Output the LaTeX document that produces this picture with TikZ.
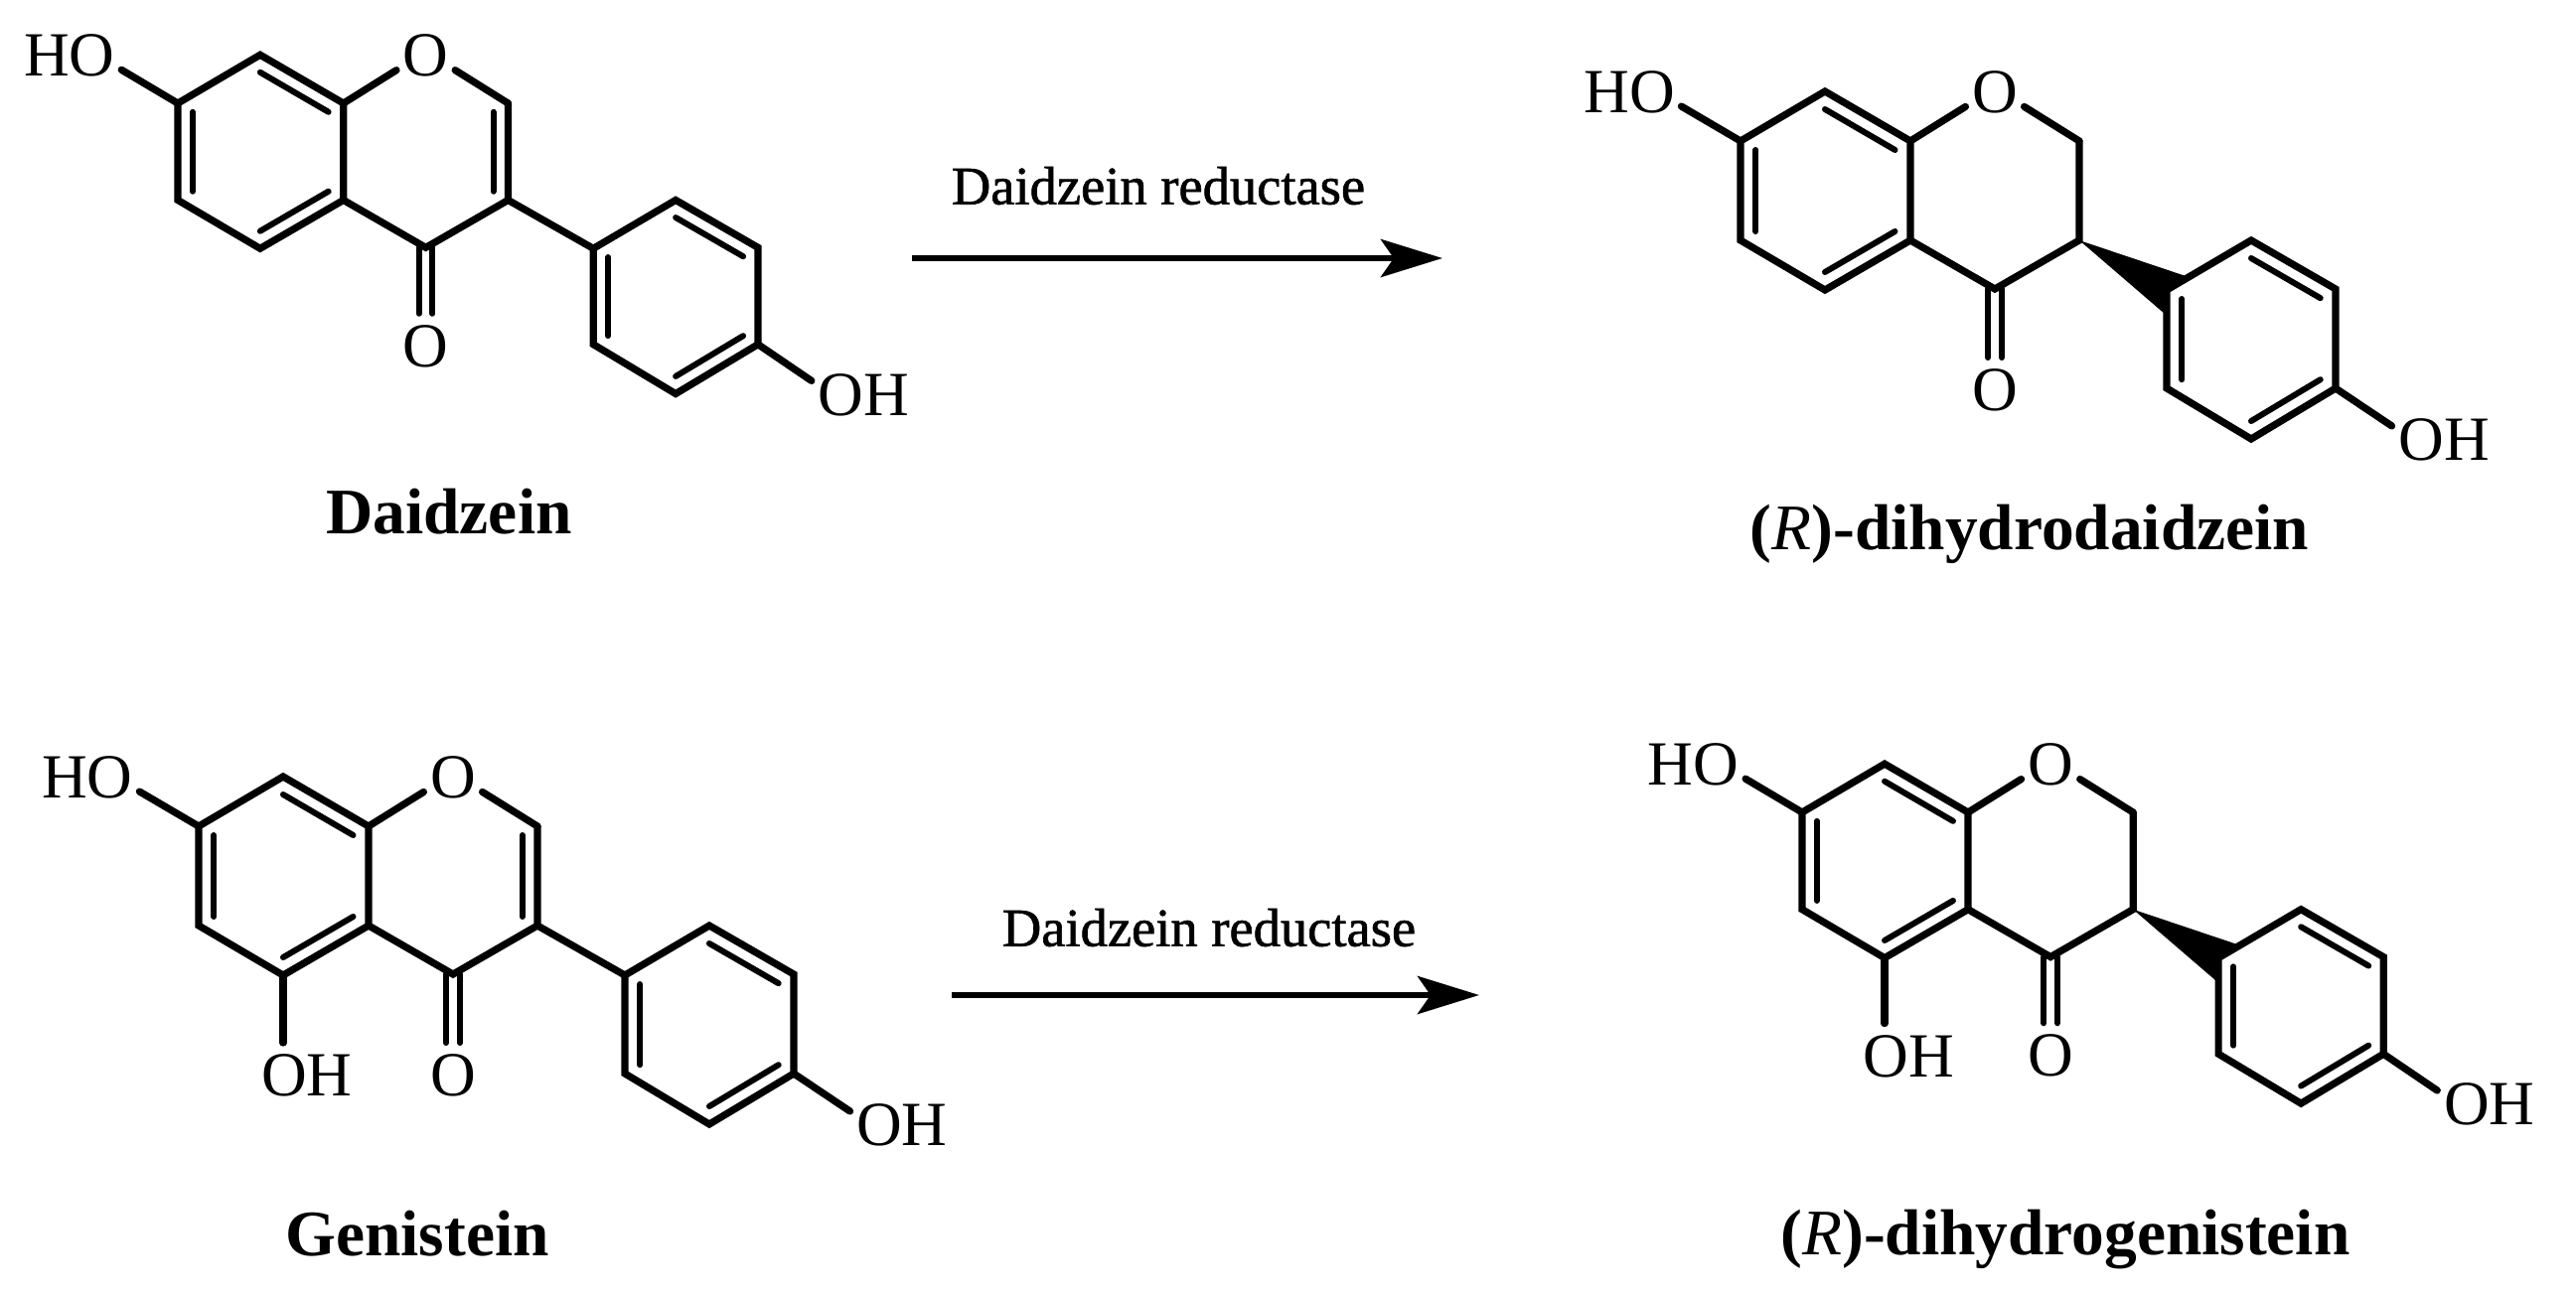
\documentclass[tikz,border=0pt]{standalone}
\usepackage{fontspec}
\setmainfont{Liberation Serif}
\newfontfamily\enzymefont[FakeBold=1.2]{Liberation Serif}
\usetikzlibrary{arrows.meta,calc}
\newcommand{\innerbond}[3]{\draw[innerline] ($(#1)!.82!(#2)$) -- ($(#1)!.82!(#3)$);}
\tikzset{
  bondline/.style={line width=.072cm,line join=miter,line cap=round},
  innerline/.style={line width=.06cm,line cap=round},
  atomlabel/.style={font=\fontsize{18}{20}\selectfont,inner xsep=.06cm,inner ysep=.11cm},
  molname/.style={font=\fontsize{18.6}{22}\selectfont\bfseries},
  enzyme/.style={font=\fontsize{15.5}{18}\selectfont\enzymefont},
  reaction/.style={line width=.065cm,-{Stealth[length=.62cm,width=.38cm,inset=.13cm]}},
  pics/isoflavonoid/.style={code={
    \coordinate (-c7) at (0,0);
    \coordinate (-c8) at (85,-50);
    \coordinate (-c8a) at (171,0);
    \coordinate (-c2) at (341,0);
    \coordinate (-c3) at (341,100);
    \coordinate (-c4) at (256,149);
    \coordinate (-c4a) at (171,100);
    \coordinate (-c5) at (85,150);
    \coordinate (-c6) at (0,100);
    \coordinate (-p1) at (429,150);
    \coordinate (-p2) at (514,100);
    \coordinate (-p3) at (599,149);
    \coordinate (-p4) at (599,249);
    \coordinate (-p5) at (514,300);
    \coordinate (-p6) at (429,249);
    \coordinate (-ra) at (85,50);
    \coordinate (-rb) at (256,50);
    \coordinate (-rp) at (514,200);
    \node[atomlabel] (-o1) at (256,-49) {O};
    \node[atomlabel] (-ho) at (-112,-49) {HO};
    \node[atomlabel] (-oh) at (708,301) {OH};
    \node[atomlabel] (-co) at (256,251) {O};
    \draw[bondline] (-c7) -- (-c8) -- (-c8a) -- (-c4a) -- (-c5) -- (-c6) -- cycle;
    \draw[bondline] (-c4a) -- (-c4) -- (-c3) -- (-c2);
    \draw[bondline] (-c8a) -- (-o1.206);
    \draw[bondline] (-o1.-26) -- (-c2);
    \draw[bondline] (-c7) -- (-ho.-15);
    \draw[bondline] (-p4) -- (-oh.165);
    \draw[bondline] (-p1) -- (-p2) -- (-p3) -- (-p4) -- (-p5) -- (-p6) -- cycle;
    \draw[innerline] ($(-c4)+(-7,0)$) -- ($(-co.north)+(-7,0)$);
    \draw[innerline] ($(-c4)+(7,0)$) -- ($(-co.north)+(7,0)$);
    \innerbond{-ra}{-c7}{-c6}
    \innerbond{-ra}{-c8}{-c8a}
    \innerbond{-ra}{-c4a}{-c5}
    \innerbond{-rp}{-p2}{-p3}
    \innerbond{-rp}{-p4}{-p5}
    \innerbond{-rp}{-p6}{-p1}
  }}
}
\begin{document}
\begin{tikzpicture}[x=.01cm,y=-.01cm]
  \useasboundingbox (0,0) rectangle (2593,1306);

  \pic[scale=.975] (dz) at (179,104) {isoflavonoid};
  \draw[bondline] (dz-c3) -- (dz-p1);
  \innerbond{dz-rb}{dz-c2}{dz-c3}
  \node[molname] (dzname) at (452,515) {Daidzein};

  \pic (dhd) at (1752,142) {isoflavonoid};
  \fill (dhd-c3) -- ($(dhd-p1)!.26!(dhd-p2)$) -- (dhd-p1) -- ($(dhd-p1)!.26!(dhd-p6)$) -- cycle;
  \node[molname] (dhdname) at (2043,538) {(\textit{\mdseries R})-dihydrodaidzein};

  \pic (gn) at (200,832) {isoflavonoid};
  \draw[bondline] (gn-c3) -- (gn-p1);
  \innerbond{gn-rb}{gn-c2}{gn-c3}
  \node[atomlabel] (gnoh) at ($(gn-c5)+(24,101)$) {OH};
  \draw[bondline] (gn-c5) -- (gn-c5 |- gnoh.north);
  \node[molname] (gnname) at (420,1242) {Genistein};

  \pic[scale=.977] (dhg) at (1814,818) {isoflavonoid};
  \fill (dhg-c3) -- ($(dhg-p1)!.26!(dhg-p2)$) -- (dhg-p1) -- ($(dhg-p1)!.26!(dhg-p6)$) -- cycle;
  \node[atomlabel] (dhgoh) at ($(dhg-c5)+(24,99)$) {OH};
  \draw[bondline] (dhg-c5) -- (dhg-c5 |- dhgoh.north);
  \node[molname] (dhgname) at (2079,1248) {(\textit{\mdseries R})-dihydrogenistein};

  \coordinate (rxatop) at (918,260);
  \coordinate (rxbtop) at (1452,260);
  \draw[reaction] (rxatop) -- (rxbtop);
  \node[enzyme] (enztop) at (1166,187) {Daidzein reductase};

  \coordinate (rxabot) at (958,1002);
  \coordinate (rxbbot) at (1489,1002);
  \draw[reaction] (rxabot) -- (rxbbot);
  \node[enzyme] (enzbot) at (1217,934) {Daidzein reductase};
\end{tikzpicture}
\end{document}
